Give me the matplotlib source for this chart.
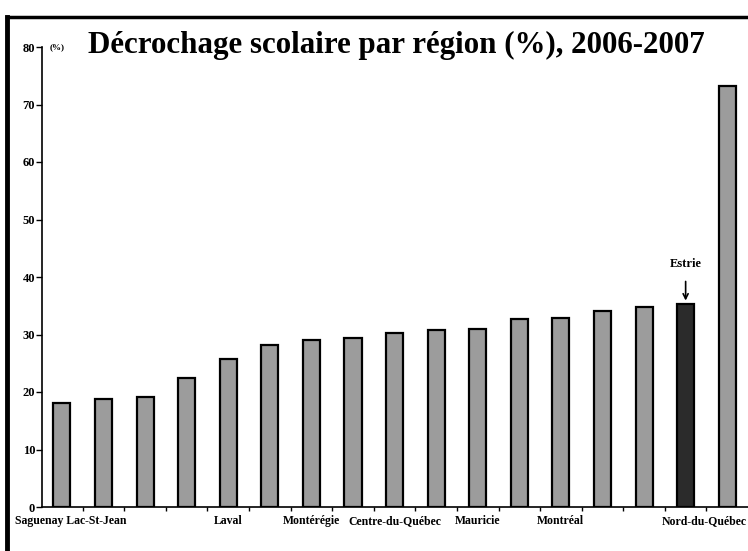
import matplotlib.pyplot as plt
from matplotlib.lines import Line2D

# décrochage scolaire par région (%)
values = [18.1, 18.8, 19.1, 22.4, 25.7, 28.2, 29.0, 29.4, 30.3,
          30.8, 31.0, 32.7, 32.9, 34.1, 34.8, 35.3, 73.2]
estrie_idx = 15
label_pos = [0.2, 4, 6, 8, 10, 12, 15.45]
label_txt = ['Saguenay Lac-St-Jean', 'Laval', 'Montérégie', 'Centre-du-Québec',
             'Mauricie', 'Montréal', 'Nord-du-Québec']
yticks = [0, 10, 20, 30, 40, 50, 60, 70, 80]

plt.rcParams['font.family'] = ['Liberation Serif', 'DejaVu Serif']

W, H = 748, 551
fig = plt.figure(figsize=(W / 100, H / 100), dpi=100)
ax = fig.add_axes([42 / W, 44 / H, (W - 42) / W, 460 / H])

x = list(range(len(values)))
colors = ['#9c9c9c'] * len(values)
colors[estrie_idx] = '#2b2b2b'
ax.bar(x, values, width=0.41, color=colors, edgecolor='black', linewidth=1.6)

ax.set_xlim(-0.48, 16.5)
ax.set_ylim(0, 80)
ax.set_yticks(yticks)
ax.set_yticklabels([str(v) for v in yticks], fontsize=9, fontweight='bold')
ax.tick_params(axis='y', length=4, width=1, pad=1)

ax.set_xticks(label_pos)
ax.set_xticklabels(label_txt, fontsize=8.5, fontweight='bold')
ax.tick_params(axis='x', length=0, pad=6)
ax.set_xticks([i + 0.5 for i in range(len(values) - 1)], minor=True)
ax.tick_params(axis='x', which='minor', length=3, width=1)

for s in ['top', 'right']:
    ax.spines[s].set_visible(False)
ax.spines['left'].set_linewidth(1.2)
ax.spines['bottom'].set_linewidth(1.2)

ax.annotate('Estrie', xy=(estrie_idx, values[estrie_idx] + 0.6),
            xytext=(estrie_idx, 42.2), ha='center', va='center',
            fontsize=9, fontweight='bold',
            arrowprops=dict(arrowstyle='->', color='black', lw=1.2,
                            shrinkA=6, shrinkB=0))

fig.text(50 / W, 1 - 47 / H, '(%)', fontsize=6.5, fontweight='bold',
         va='center', ha='left')
fig.text(88 / W, 1 - 45 / H, 'Décrochage scolaire par région (%), 2006-2007',
         fontsize=22.3, fontweight='bold', va='center', ha='left')

# cadre scanné
fig.add_artist(Line2D([7 / W, 7 / W], [0, 1 - 17 / H], color='black', lw=3.5))
fig.add_artist(Line2D([7 / W, 1], [1 - 17 / H, 1 - 17 / H], color='black', lw=2.5))

fig.savefig('out.png', dpi=100)
